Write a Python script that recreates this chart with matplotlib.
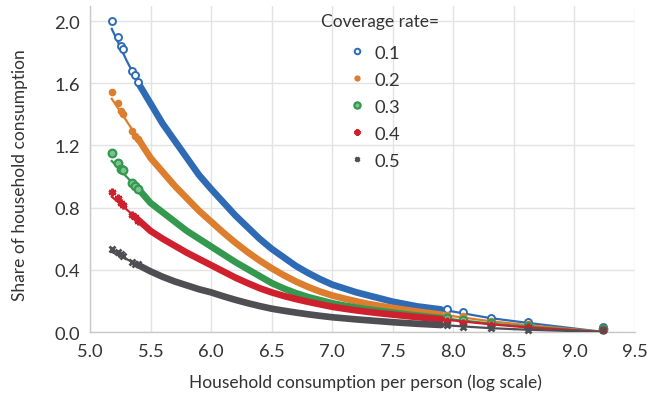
import matplotlib
matplotlib.use("Agg")
import matplotlib.pyplot as plt
from matplotlib.lines import Line2D

plt.rcParams["font.family"] = ["Lato", "DejaVu Sans"]

# coverage rates (legend)
rates = ["0.1", "0.2", "0.3", "0.4", "0.5"]

# x grid used for the fitted lines / dense band of points
curve_x = [5.18, 5.3, 5.4, 5.5, 5.6, 5.7, 5.8, 5.9, 6.0,
           6.1, 6.2, 6.3, 6.4, 6.5, 6.6, 6.7, 6.8, 6.9,
           7.0, 7.1, 7.2, 7.3, 7.4, 7.5, 7.6, 7.7, 7.8, 7.9,
           8.3, 8.6, 9.24]
curve_01 = [1.95, 1.75, 1.60, 1.47, 1.34, 1.23, 1.12, 1.01, 0.92,
            0.835, 0.75, 0.675, 0.60, 0.535, 0.48, 0.425, 0.38, 0.34,
            0.305, 0.28, 0.255, 0.235, 0.215, 0.195, 0.18, 0.165, 0.155, 0.145,
            0.09, 0.06, 0.0]
curve_02 = [1.50, 1.36, 1.24, 1.12, 1.03, 0.94, 0.86, 0.78, 0.71,
            0.64, 0.575, 0.515, 0.46, 0.41, 0.365, 0.325, 0.29, 0.26,
            0.235, 0.215, 0.197, 0.18, 0.167, 0.155, 0.143, 0.132, 0.122, 0.112,
            0.07, 0.045, 0.0]
curve_03 = [1.10, 1.00, 0.92, 0.83, 0.77, 0.71, 0.65, 0.60, 0.55,
            0.50, 0.45, 0.405, 0.36, 0.315, 0.28, 0.25, 0.225, 0.205,
            0.185, 0.17, 0.157, 0.145, 0.135, 0.125, 0.115, 0.106, 0.098, 0.09,
            0.055, 0.035, 0.0]
curve_04 = [0.87, 0.79, 0.72, 0.65, 0.60, 0.555, 0.51, 0.47, 0.43,
            0.39, 0.35, 0.315, 0.282, 0.255, 0.232, 0.212, 0.194, 0.178,
            0.162, 0.15, 0.139, 0.129, 0.12, 0.112, 0.104, 0.096, 0.089, 0.082,
            0.05, 0.03, 0.0]
curve_05 = [0.515, 0.47, 0.43, 0.39, 0.355, 0.325, 0.30, 0.275, 0.255,
            0.23, 0.207, 0.186, 0.167, 0.15, 0.137, 0.125, 0.114, 0.104,
            0.095, 0.088, 0.081, 0.075, 0.069, 0.063, 0.058, 0.053, 0.049, 0.045,
            0.025, 0.015, 0.0]

# sparse individual observations at both ends
sparse_x = [5.18, 5.23, 5.26, 5.27, 5.35, 5.37, 5.40, 7.95, 8.08, 8.31, 8.62, 9.24]
sparse_01 = [2.00, 1.90, 1.84, 1.82, 1.68, 1.65, 1.61, 0.145, 0.13, 0.09, 0.066, 0.03]
sparse_02 = [1.545, 1.47, 1.42, 1.40, 1.29, 1.26, 1.24, 0.11, 0.10, 0.07, 0.05, 0.025]
sparse_03 = [1.15, 1.09, 1.05, 1.04, 0.96, 0.94, 0.92, 0.09, 0.08, 0.055, 0.04, 0.02]
sparse_04 = [0.90, 0.86, 0.83, 0.82, 0.75, 0.74, 0.715, 0.07, 0.06, 0.045, 0.03, 0.015]
sparse_05 = [0.534, 0.515, 0.50, 0.49, 0.448, 0.44, 0.437, 0.045, 0.035, 0.025, 0.015, 0.01]

x_ticks = [5.0, 5.5, 6.0, 6.5, 7.0, 7.5, 8.0, 8.5, 9.0, 9.5]
y_ticks = [0.0, 0.4, 0.8, 1.2, 1.6, 2.0]

curves = [curve_01, curve_02, curve_03, curve_04, curve_05]
sparse = [sparse_01, sparse_02, sparse_03, sparse_04, sparse_05]
colors = ["#2e6bb4", "#dd7d2e", "#34984f", "#cf202d", "#4f4e52"]
styles = [
    dict(marker="o", markersize=5, markerfacecolor="white", markeredgewidth=1.4),
    dict(marker="o", markersize=5.5, markeredgewidth=0),
    dict(marker="o", markersize=5.5, markerfacecolor="#7cc48f", markeredgewidth=1.6),
    dict(marker=(6, 2, 0), markersize=5.5, markeredgewidth=1.8),
    dict(marker="x", markersize=4.5, markeredgewidth=2.0),
]

fig = plt.figure(figsize=(6.51, 4.10), dpi=100)
ax = fig.add_axes([0.1382, 0.1878, 0.8372, 0.7963])

band_lo, band_hi = 2, 27  # dense part of each point cloud (5.4 .. 7.9)
for i in range(5):
    c = colors[i]
    ax.plot(curve_x, curves[i], color=c, lw=1.6, zorder=3 + i)
    ax.plot(curve_x[band_lo:band_hi + 1], curves[i][band_lo:band_hi + 1], color=c,
            lw=4.8, solid_capstyle="round", solid_joinstyle="round", zorder=3 + i)
    ax.plot(sparse_x, sparse[i], linestyle="none", color=c, markeredgecolor=c,
            clip_on=False, zorder=3 + i, **styles[i])

ax.set_xlim(5.0, 9.5)
ax.set_ylim(0.0, 2.1)
ax.set_xticks(x_ticks)
ax.set_yticks(y_ticks)
ax.set_xticklabels([f"{v:.1f}" for v in x_ticks])
ax.set_yticklabels([f"{v:.1f}" for v in y_ticks])
ax.tick_params(length=0, labelsize=13.2, labelcolor="#333333")
ax.tick_params(axis="x", pad=8)
ax.tick_params(axis="y", pad=7)
ax.grid(True, color="#e3e3e3", lw=1.0)
ax.set_axisbelow(True)
for s in ["top", "right"]:
    ax.spines[s].set_visible(False)
for s in ["left", "bottom"]:
    ax.spines[s].set_color("#c8c8c8")
    ax.spines[s].set_linewidth(1.0)

ax.set_xlabel("Household consumption per person (log scale)", fontsize=12.5,
              color="#333333", va="center")
ax.set_ylabel("Share of household consumption", fontsize=12.5, color="#333333",
              va="center")
ax.xaxis.set_label_coords(0.505, -0.153)
ax.yaxis.set_label_coords(-0.128, 0.485)

handles = [Line2D([], [], linestyle="none", color=colors[i], markeredgecolor=colors[i],
                  **{**styles[i], "markersize": styles[i]["markersize"] - 1})
           for i in range(5)]
fig.text(380 / 651, 1 - 22 / 410, "Coverage rate=", ha="center", va="center",
         fontsize=12.5, color="#333333")
ax.legend(handles, rates, loc="upper left",
          bbox_to_anchor=(344 / 651, 1 - 42 / 410), bbox_transform=fig.transFigure,
          frameon=False, fontsize=13.2, handlelength=1.0, labelcolor="#333333",
          handletextpad=0.45, labelspacing=0.6, borderpad=0.2, borderaxespad=0)

fig.savefig("out.png", dpi=100)
